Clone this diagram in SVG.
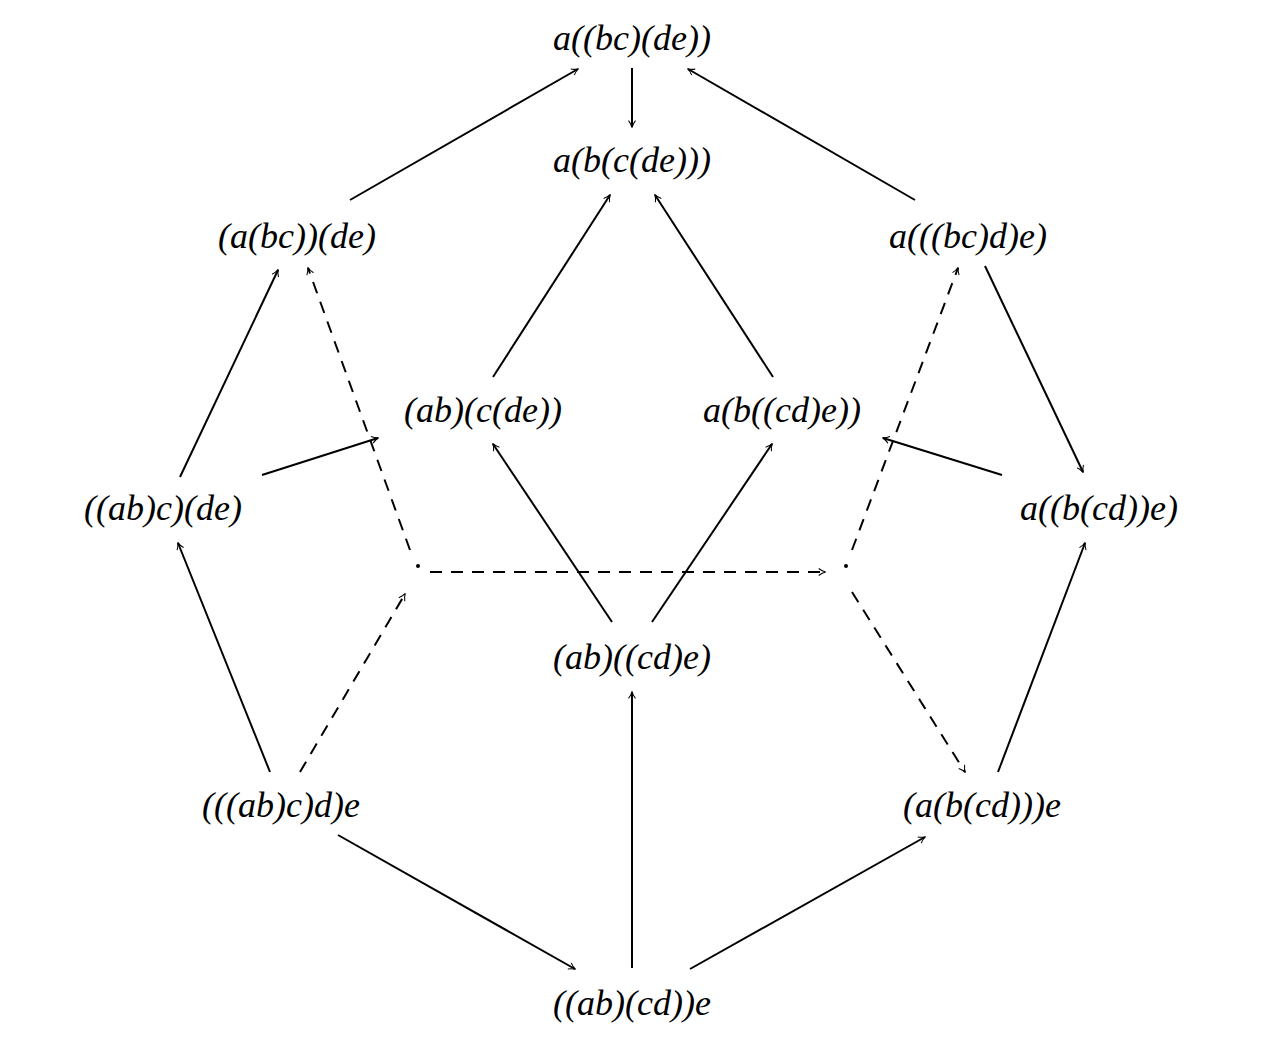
<svg xmlns="http://www.w3.org/2000/svg" width="1274" height="1038" viewBox="0 0 1274 1038">
<style>
text{font-family:"Liberation Serif",serif;font-size:36px;font-style:italic;text-anchor:middle;fill:#000}
.e{stroke:#000;stroke-width:2;fill:none;marker-end:url(#ah)}
.d{stroke-dasharray:12 9}
</style>
<defs><marker id="ah" viewBox="0 0 10 10" refX="9" refY="5" markerWidth="7" markerHeight="7" orient="auto" markerUnits="userSpaceOnUse" overflow="visible"><path d="M0,0 Q5,4 10,5 Q5,6 0,10" fill="none" stroke="#000" stroke-width="1.5"/></marker></defs>
<rect width="1274" height="1038" fill="#fff"/>
<g id="n1"><text x="632" y="50">a((bc)(de))</text></g>
<g id="n2"><text x="632" y="172">a(b(c(de)))</text></g>
<g id="n3"><text x="297" y="248">(a(bc))(de)</text></g>
<g id="n4"><text x="968" y="248">a(((bc)d)e)</text></g>
<g id="n5"><text x="483" y="422">(ab)(c(de))</text></g>
<g id="n6"><text x="782" y="422">a(b((cd)e))</text></g>
<g id="n7"><text x="163" y="520">((ab)c)(de)</text></g>
<g id="n8"><text x="1099" y="520">a((b(cd))e)</text></g>
<g id="n9"><text x="632" y="669">(ab)((cd)e)</text></g>
<g id="n10"><text x="281" y="817">(((ab)c)d)e</text></g>
<g id="n11"><text x="982" y="817">(a(b(cd)))e</text></g>
<g id="n12"><text x="632" y="1015">((ab)(cd))e</text></g>
<g id="edges">
<path class="e" d="M350,200L578,69"/>
<path class="e" d="M632,68L632,127"/>
<path class="e" d="M915,200L688,69"/>
<path class="e" d="M493,377L610,195"/>
<path class="e" d="M773,377L655,195"/>
<path class="e" d="M180,477L278,270"/>
<path class="e" d="M262,475L378,438"/>
<path class="e" d="M985,266L1083,472"/>
<path class="e" d="M1002,475L883,438"/>
<path class="e" d="M270,772L178,543"/>
<path class="e" d="M612,622L493,444"/>
<path class="e" d="M652,622L772,444"/>
<path class="e" d="M632,968L632,692"/>
<path class="e" d="M338,835L575,969"/>
<path class="e" d="M690,969L925,837"/>
<path class="e" d="M998,772L1085,543"/>
<path class="e d" d="M410,550L308,268"/>
<path class="e d" d="M300,772L405,594"/>
<path class="e d" d="M430,572L825,572"/>
<path class="e d" d="M852,550L958,268"/>
<path class="e d" d="M852,592L965,772"/>
<circle cx="418" cy="566" r="2"/>
<circle cx="846" cy="566" r="2"/>
</g>
</svg>
